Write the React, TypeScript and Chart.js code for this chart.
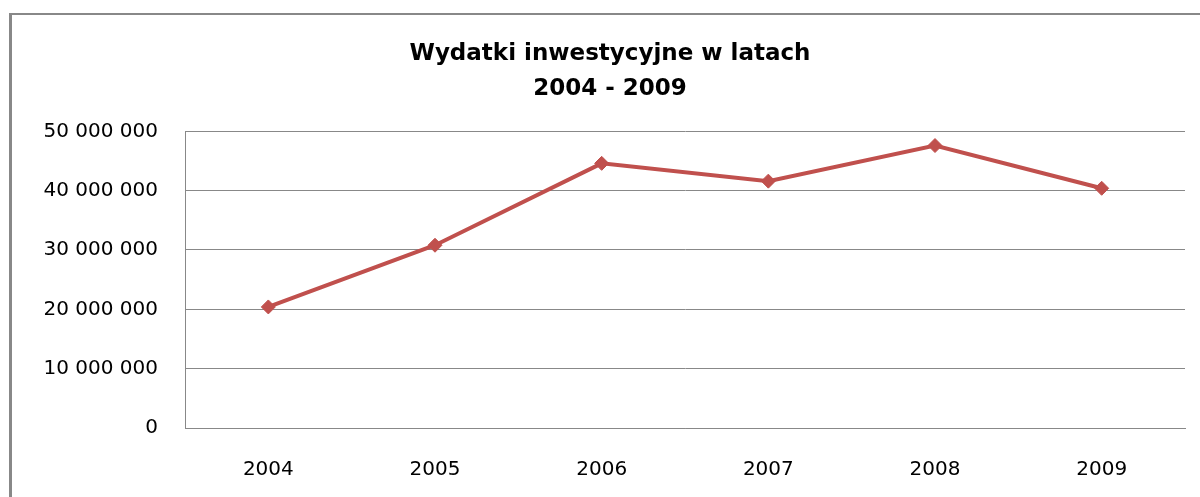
import React, { useEffect, useRef } from "react";
import { Chart, registerables } from "chart.js";

Chart.register(...registerables);

const years = ["2004", "2005", "2006", "2007", "2008", "2009"];
const wydatki = [20400000, 30800000, 44600000, 41600000, 47600000, 40400000];
const titleLines = ["Wydatki inwestycyjne w latach", "2004 - 2009"];
const yMax = 50000000;
const yStep = 10000000;

const fmt = (v: number) => {
  if (v === 0) return "0";
  return String(Math.round(v)).replace(/\B(?=(\d{3})+(?!\d))/g, " ");
};

export default function App() {
  const ref = useRef<HTMLCanvasElement | null>(null);
  useEffect(() => {
    document.body.style.margin = "0";
    const ctx = ref.current!.getContext("2d")!;
    const chart = new Chart(ctx, {
      type: "line",
      data: {
        labels: years,
        datasets: [
          {
            data: wydatki,
            borderColor: "#C0504D",
            backgroundColor: "#C0504D",
            borderWidth: 4,
            pointStyle: "rectRot",
            pointRadius: 7,
            pointBorderWidth: 1,
            tension: 0,
          },
        ],
      },
      options: {
        animation: false,
        responsive: false,
        layout: { padding: { left: 35, right: 15, top: 0, bottom: 0 } },
        plugins: {
          legend: { display: false },
          tooltip: { enabled: false },
          title: {
            display: true,
            text: titleLines,
            color: "#000",
            font: { family: "'DejaVu Sans'", size: 23, weight: "bold", lineHeight: 1.55 },
            padding: { top: 36, bottom: 24 },
          },
        },
        scales: {
          x: {
            offset: true,
            grid: { display: false, drawTicks: false },
            border: { display: true, color: "#888", width: 1 },
            ticks: {
              color: "#000",
              font: { family: "'DejaVu Sans'", size: 20 },
              padding: 30,
              maxRotation: 0,
            },
            afterFit: (s: any) => {
              s.height = 69;
            },
          },
          y: {
            min: 0,
            max: yMax,
            grid: { color: "#888", lineWidth: 1, drawTicks: false },
            border: { display: true, color: "#888", width: 1 },
            ticks: {
              stepSize: yStep,
              color: "#000",
              font: { family: "'DejaVu Sans'", size: 20 },
              padding: 27,
              callback: (v: any) => fmt(Number(v)),
            },
            afterFit: (s: any) => {
              s.width = 150;
            },
          },
        },
      },
    });
    return () => chart.destroy();
  }, []);
  return (
    <div style={{ position: "relative", width: 1200, height: 497, background: "#fff", overflow: "hidden" }}>
      <div
        style={{
          position: "absolute",
          left: 9,
          top: 13,
          width: 1300,
          height: 600,
          borderTop: "2px solid #888",
          borderLeft: "3px solid #888",
        }}
      />
      <canvas ref={ref} width={1200} height={497} style={{ position: "absolute", left: 0, top: 0 }} />
    </div>
  );
}
